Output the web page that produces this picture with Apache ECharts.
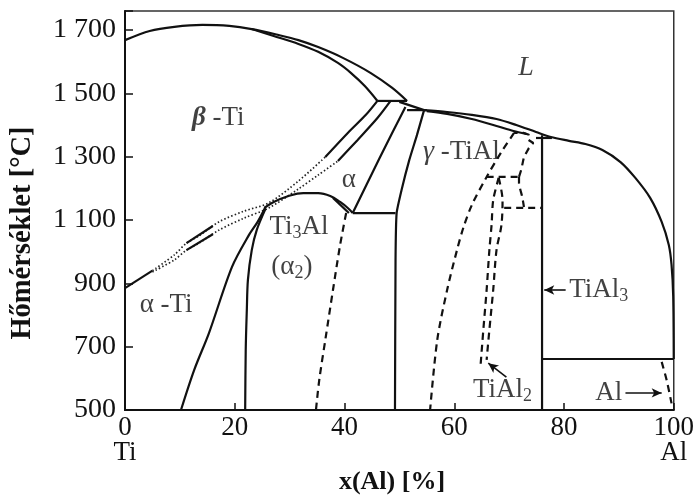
<!DOCTYPE html>
<html><head><meta charset="utf-8">
<script src="https://cdn.jsdelivr.net/npm/echarts@6/dist/echarts.min.js"></script>
<style>html,body{margin:0;padding:0;background:#fff}#c{width:697px;height:497px}</style>
</head><body><div id="c"></div>
<script>
// ---- tick labels ----
const xTickValues = [0, 20, 40, 60, 80, 100];
const xTickLabels = ['0\nTi', '20', '40', '60', '80', '100\nAl'];
const yTickValues = [500, 700, 900, 1100, 1300, 1500, 1700];
const yTickLabels = ['500', '700', '900', '1 100', '1 300', '1 500', '1 700'];

// ---- phase boundaries: [x(Al) %, T °C] ----
const liquidusTi = [[0,1668],[4.5,1697],[9.0,1710],[14.1,1716],[19.0,1713],[23.1,1703],[28.0,1684],[31.6,1668],[35.2,1646],[39.7,1612],[44.8,1564],[48.7,1517],[51.4,1476]];
const solidusBeta = [[23.1,1703],[27.1,1681],[31.6,1656],[35.2,1631],[38.8,1596],[41.2,1564],[43.7,1523],[46.0,1476]];
const peritecticBeta = [[46.0,1476],[51.4,1476]];
const solidusAlpha = [[50.0,1473],[54.5,1447]];
const peritecticAlpha = [[51.4,1447],[55.0,1447]];
const liquidusAl = [[54.5,1447],[58.7,1441],[63.2,1432],[67.7,1419],[71.3,1400],[74.9,1378],[77.6,1362],[80.9,1350],[83.9,1340],[87.0,1321],[90.3,1283],[93.0,1233],[95.7,1170],[97.8,1094],[99.1,1021],[99.6,958],[99.9,860],[100,661]];
const solidusGamma = [[55.0,1444],[58.7,1435],[63.2,1419],[67.7,1397],[70.8,1381],[73.1,1372]];
const transusLow = [[0,885],[5.0,940]];
const betaTransusDotted = [[5.0,940],[9.0,990],[11.2,1027],[13.5,1050],[17.1,1094],[21.7,1128],[26.2,1154],[31.6,1223],[36.5,1299]];
const betaTransusHigh = [[36.5,1299],[40.6,1375],[43.9,1432],[46.0,1476]];
const alphaTransusDotted = [[5.0,936],[9.0,974],[11.2,1005],[13.5,1027],[17.1,1068],[21.7,1106],[26.2,1138],[31.6,1198],[35.2,1242],[38.8,1286]];
const alphaTransusHigh = [[38.8,1286],[42.4,1353],[46.0,1422],[48.4,1476]];
const transusDashUpper = [[11.2,1027],[16.0,1081]];
const transusDashLower = [[11.2,1005],[16.0,1055]];
const ti3AlDome = [[25.4,1138],[27.1,1157],[29.8,1176],[32.5,1185],[35.2,1185],[37.4,1176],[39.2,1157],[40.6,1138],[41.5,1122]];
const alpha2Edge = [[37.9,1170],[40.8,1122]];
const alphaTiBoundary = [[25.6,1141],[24.2,1095],[22.6,1053],[19.5,952],[15.3,743],[12.6,626],[10.2,500]];
const alpha2Left = [[25.6,1135],[24.0,1068],[23.1,1005],[22.4,911],[22.2,816],[22.0,690],[21.9,500]];
const alpha2RightDashed = [[40.3,1122],[39.2,1021],[37.9,879],[36.5,721],[35.4,595],[34.8,500]];
const eutectoid = [[41.5,1122],[49.3,1122]];
const alphaBoundary = [[51.1,1457],[46.4,1296],[41.5,1122]];
const gammaLeft = [[54.5,1447],[53.2,1368],[51.8,1289],[50.4,1195],[49.5,1122],[49.3,974],[49.2,500]];
const gammaRightDashed = [[70.9,1375],[68.6,1315],[65.9,1236],[63.2,1147],[61.7,1078],[60.5,1005],[58.7,879],[56.9,721],[55.6,500]];
const tial2Peritectoid = [[65.9,1236],[71.8,1236]];
const tial2Left = [[68.1,1233],[67.1,1163],[66.8,1084],[66.4,1005],[65.9,879],[65.3,753],[64.8,642]];
const tial2Right = [[68.1,1233],[68.8,1163],[68.6,1084],[67.7,1005],[67.1,879],[66.4,753],[65.9,658]];
const loopRight = [[71.8,1236],[72.2,1258],[72.7,1299],[73.6,1327],[74.4,1343],[73.5,1353],[73.6,1369],[72.7,1375],[70.9,1375]];
const loopLower = [[71.8,1236],[71.8,1217],[72.4,1172],[72.7,1141]];
const eutectoidTiAl3 = [[69.1,1138],[76.0,1138]];
const tial3Line = [[76.0,1368],[76.0,500]];
const tial3Top = [[74.9,1359],[77.8,1359]];
const alSolidus = [[76.0,661],[100,661]];
const alSolvus = [[97.8,652],[98.7,595],[99.6,521]];

// ---- pointer arrows ----
const arrowTiAl2 = [[69.5,604],[66.2,648]];
const arrowTiAl3 = [[80.3,879],[76.4,879]];
const arrowAl = [[91.2,554],[97.8,554]];

const FONT = 'Liberation Serif';
const styles = {
  solid: {color:'#111', width:2.2, type:'solid'},
  dash: {color:'#111', width:2.2, type:[7,5]},
  dot: {color:'#222', width:1.7, type:[1.5,2.2]}
};
const curves = [
  [liquidusTi,'solid',0.3],[solidusBeta,'solid',0.3],[peritecticBeta,'solid',0],[solidusAlpha,'solid',0],[peritecticAlpha,'solid',0],
  [liquidusAl,'solid',0.3],[solidusGamma,'solid',0.3],[transusLow,'solid',0],[betaTransusDotted,'dot',0.3],[betaTransusHigh,'solid',0.3],
  [alphaTransusDotted,'dot',0.3],[alphaTransusHigh,'solid',0.3],[transusDashUpper,'solid',0],[transusDashLower,'solid',0],
  [ti3AlDome,'solid',0.4],[alpha2Edge,'solid',0],[alphaTiBoundary,'solid',0.3],[alpha2Left,'solid',0.3],[alpha2RightDashed,'dash',0.3],
  [eutectoid,'solid',0],[alphaBoundary,'solid',0.2],[gammaLeft,'solid',0.15],[gammaRightDashed,'dash',0.3],[tial2Peritectoid,'dash',0],
  [tial2Left,'dash',0.3],[tial2Right,'dash',0.3],[loopRight,'dash',0],[loopLower,'dash',0.2],[eutectoidTiAl3,'dash',0],
  [tial3Line,'solid',0],[tial3Top,'solid',0],[alSolidus,'solid',0],[alSolvus,'dash',0.2]
];
const series = curves.map(([d, st, sm]) => ({
  type:'line', data:d, showSymbol:false, symbol:'none', smooth:sm, silent:true,
  animation:false, lineStyle:styles[st]
}));

const rich = {
  n:{fontFamily:FONT, fontSize:27, color:'#111', lineHeight:30},
  it:{fontFamily:FONT, fontSize:28, fontStyle:'italic', color:'#111', lineHeight:30},
  bi:{fontFamily:FONT, fontSize:27, fontStyle:'italic', fontWeight:'bold', color:'#111', lineHeight:30},
  s:{fontFamily:FONT, fontSize:18, color:'#111', lineHeight:30, verticalAlign:'bottom'}
};
function ann(pos, text, where){
  return {value:pos, label:{show:true, position:where||'inside', distance:2, formatter:text, rich:rich}};
}
series.push({
  type:'scatter', symbolSize:0, silent:true, animation:false,
  data:[
    ann([73.1,1580],'{it|L}'),
    ann([17.0,1422],'{bi|β}{n| -Ti}'),
    ann([40.8,1226],'{n|α}'),
    ann([61.3,1315],'{it|γ}{n| -TiAl}'),
    ann([31.7,1078],'{n|Ti}{s|3}{n|Al}'),
    ann([30.4,952],'{n|(α}{s|2}{n|)}'),
    ann([7.5,832],'{n|α -Ti}'),
    ann([68.8,563],'{n|TiAl}{s|2}'),
    ann([80.6,879],'{n|TiAl}{s|3}','right'),
    ann([91.0,554],'{n|Al}','left')
  ],
  markLine:{
    silent:true, animation:false, symbol:['none','arrow'], symbolSize:[7,10],
    lineStyle:{color:'#111', width:1.6, type:'solid'}, label:{show:false},
    data:[arrowTiAl2, arrowTiAl3, arrowAl].map(a => [{coord:a[0]},{coord:a[1]}])
  }
});

const chart = echarts.init(document.getElementById('c'), null, {renderer:'canvas'});
chart.setOption({
  backgroundColor:'#fff',
  animation:false,
  grid:{left:125, right:17, top:11, bottom:87, show:true, borderColor:'#333', borderWidth:1.5, backgroundColor:'transparent'},
  xAxis:{
    type:'value', min:0, max:100, interval:20,
    axisLine:{show:true, lineStyle:{color:'#111', width:2}},
    axisTick:{show:true, inside:true, length:7, lineStyle:{color:'#111', width:1.5}},
    splitLine:{show:false},
    axisLabel:{fontFamily:FONT, fontSize:27, color:'#111', margin:5, lineHeight:25,
      formatter:v => { const i = xTickValues.indexOf(v); return i < 0 ? '' : xTickLabels[i]; }}
  },
  yAxis:{
    type:'value', min:500, max:1760, interval:200,
    axisLine:{show:true, lineStyle:{color:'#111', width:2}},
    axisTick:{show:true, inside:true, length:8, lineStyle:{color:'#111', width:1.5}},
    splitLine:{show:false}, showMaxLabel:false,
    axisLabel:{fontFamily:FONT, fontSize:28, color:'#111', margin:9,
      formatter:v => { const i = yTickValues.indexOf(v); return i < 0 ? '' : yTickLabels[i]; }}
  },
  graphic:[
    {type:'text', x:392, y:482, style:{text:'x(Al) [%]', fontFamily:FONT, fontSize:26, fontWeight:'bold', fill:'#111', align:'center', verticalAlign:'middle'}},
    {type:'text', x:23, y:233, rotation:Math.PI/2, style:{text:'Hőmérséklet [°C]', fontFamily:FONT, fontSize:28.5, fontWeight:'bold', fill:'#111', align:'center', verticalAlign:'middle'}}
  ],
  series:series
});
</script>
</body></html>
